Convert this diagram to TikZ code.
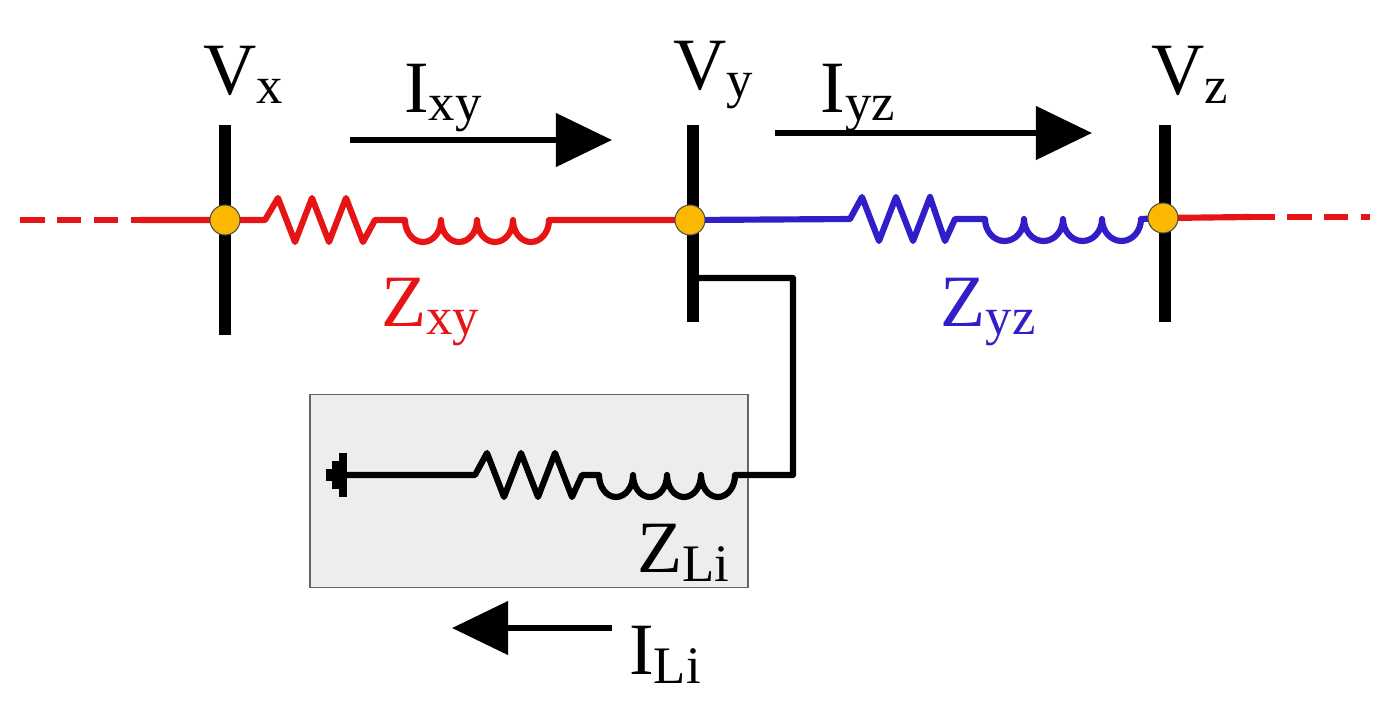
\documentclass[tikz,border=0pt]{standalone}
\usepackage{fontspec}
\setmainfont{Liberation Serif}
\usetikzlibrary{arrows.meta}
\definecolor{wred}{RGB}{230,20,20}
\definecolor{wblue}{RGB}{50,30,200}
\definecolor{dotc}{RGB}{250,185,0}
\newcommand{\lbl}[2]{#1\raisebox{-0.12em}{\fontsize{30}{32}\selectfont #2}}
\begin{document}
\begin{tikzpicture}[x=0.02cm,y=-0.02cm,
  wire/.style={line width=3.5pt,line join=round},
  bar/.style={line width=7pt},
  dot/.style={circle,draw=black!70,fill=dotc,line width=0.6pt,minimum size=30*0.02cm,inner sep=0pt},
  txt/.style={font=\fontsize{42}{48}\selectfont,inner sep=0pt},
  bigarrow/.style={line width=3.4pt,-{Triangle[length=32pt,width=30pt]}}]
\useasboundingbox (0,0) rectangle (1379,701);
% box
\node[draw=black!60,fill=black!7,line width=0.8pt,minimum width=438*0.02cm,minimum height=193*0.02cm,inner sep=0pt] (box) at (529,491) {};
% bars
\coordinate (xt) at (225,125); \coordinate (xb) at (225,335);
\coordinate (yt) at (693,125); \coordinate (yb) at (693,322);
\coordinate (zt) at (1165,125); \coordinate (zb) at (1165,322);
\draw[bar] (xt)--(xb); \draw[bar] (yt)--(yb); \draw[bar] (zt)--(zb);
\coordinate (l0) at (20,220); \coordinate (l1) at (140,220);
\coordinate (r1) at (1250,217); \coordinate (r0) at (1370,217);
\coordinate (px) at (225,220); \coordinate (py) at (690,220); \coordinate (pz) at (1163,218);
% red segment
\draw[wire,wred,dash pattern=on 14pt off 7pt] (l0)--(l1);
\draw[wire,wred] (l1)--(px) -- (265,220) -- (278,198) -- (295,242) -- (312,198) -- (329,242) -- (346,198) -- (363,242) -- (375,220) -- (405,220)
  arc[start angle=180,end angle=0,x radius=18,y radius=22] arc[start angle=180,end angle=0,x radius=18,y radius=22]
  arc[start angle=180,end angle=0,x radius=18,y radius=22] arc[start angle=180,end angle=0,x radius=18,y radius=22] -- (py);
% blue segment
\draw[wire,wblue] (py) -- (850,219) -- (862,197) -- (879,241) -- (896,197) -- (913,241) -- (930,197) -- (945,241) -- (955,219) -- (985,219)
  arc[start angle=180,end angle=0,x radius=19.5,y radius=22] arc[start angle=180,end angle=0,x radius=19.5,y radius=22]
  arc[start angle=180,end angle=0,x radius=19.5,y radius=22] arc[start angle=180,end angle=0,x radius=19.5,y radius=22] -- (pz);
\draw[wire,wred] (pz)--(r1);
\draw[wire,wred,dash pattern=on 14pt off 7pt] (r1)--(r0);
\node[dot] (nx) at (px) {};
\node[dot] (ny) at (py) {};
\node[dot] (nz) at (pz) {};
% load branch
\coordinate (t0) at (697,278); \coordinate (t1) at (793,278); \coordinate (t2) at (793,475);
\coordinate (g) at (343,475);
\draw[wire,black] (t0)--(t1)--(t2)--(735,475)
  arc[start angle=0,end angle=180,x radius=17,y radius=22] arc[start angle=0,end angle=180,x radius=17,y radius=22]
  arc[start angle=0,end angle=180,x radius=17,y radius=22] arc[start angle=0,end angle=180,x radius=17,y radius=22] -- (582,475)
  -- (572,497) -- (555,453) -- (538,497) -- (521,453) -- (504,497) -- (487,453) -- (475,475) -- (g);
\draw[line width=4pt] (343,453)--(343,497);
\draw[line width=4pt] (336,461)--(336,489);
\draw[line width=4pt] (330,469)--(330,481);
% arrows
\coordinate (a1) at (350,140); \coordinate (a2) at (612,140);
\coordinate (b1) at (775,133); \coordinate (b2) at (1092,133);
\coordinate (c1) at (612,628); \coordinate (c2) at (452,628);
\draw[bigarrow] (a1)--(a2); \draw[bigarrow] (b1)--(b2); \draw[bigarrow] (c1)--(c2);
% labels
\node[txt] (Vx) at (243,75) {\lbl{V}{x}};
\node[txt] (Vy) at (713,75) {\lbl{V}{y}};
\node[txt] (Vz) at (1190,75) {\lbl{V}{z}};
\node[txt] (Ixy) at (443,98) {\lbl{I}{xy}};
\node[txt] (Iyz) at (858,98) {\lbl{I}{yz}};
\node[txt,wred] (Zxy) at (430,312) {\lbl{Z}{xy}};
\node[txt,wblue] (Zyz) at (988,312) {\lbl{Z}{yz}};
\node[txt] (ZLi) at (683,553) {\lbl{Z}{Li}};
\node[txt] (ILi) at (665,655) {\lbl{I}{Li}};
\end{tikzpicture}
\end{document}
